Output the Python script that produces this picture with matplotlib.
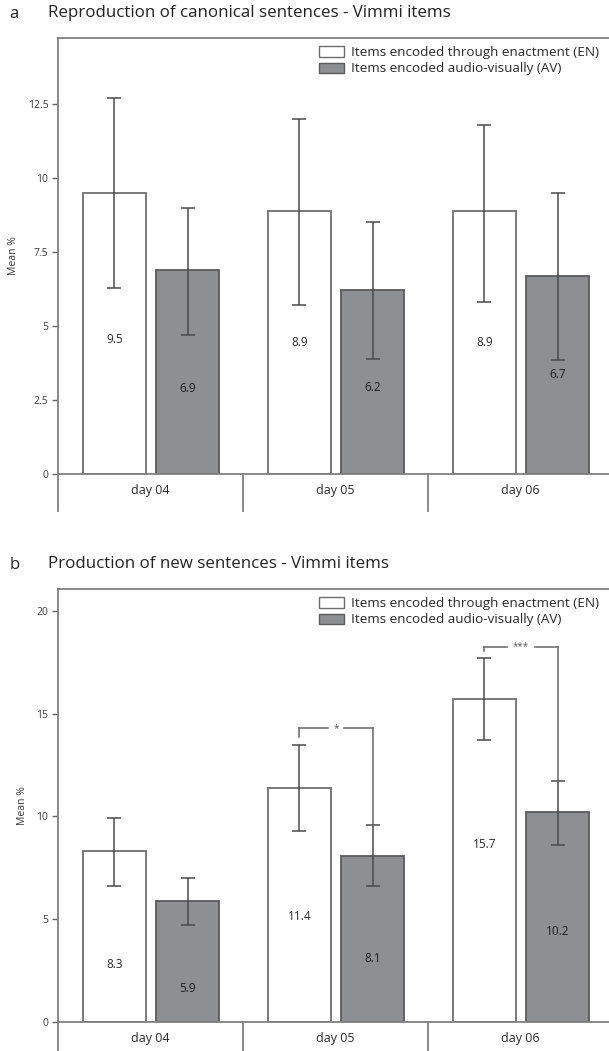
import matplotlib

matplotlib.use("Agg")
import matplotlib.pyplot as plt
import matplotlib.transforms as mtransforms
from matplotlib.patches import Patch
import numpy as np

plt.rcParams["font.family"] = ["Open Sans", "DejaVu Sans"]

days = ["day 04", "day 05", "day 06"]
legend_labels = [
    "Items encoded through enactment (EN)",
    "Items encoded audio-visually (AV)",
]

# a: reproduction of canonical sentences
repro_en = [9.5, 8.9, 8.9]
repro_en_lo = [6.3, 5.7, 5.8]
repro_en_hi = [12.7, 12.0, 11.8]
repro_av = [6.9, 6.2, 6.7]
repro_av_lo = [4.7, 3.9, 3.85]
repro_av_hi = [9.0, 8.5, 9.5]
repro_ticks = [0, 2.5, 5, 7.5, 10, 12.5]
repro_ticklabels = ["0", "2.5", "5", "7.5", "10", "12.5"]

# b: production of new sentences
prod_en = [8.3, 11.4, 15.7]
prod_en_lo = [6.6, 9.3, 13.7]
prod_en_hi = [9.95, 13.5, 17.7]
prod_av = [5.9, 8.1, 10.2]
prod_av_lo = [4.7, 6.6, 8.6]
prod_av_hi = [7.0, 9.6, 11.75]
prod_ticks = [0, 5, 10, 15, 20]
prod_ticklabels = ["0", "5", "10", "15", "20"]

# significance markers for b: (day index, bracket height, label)
prod_sig = [(1, 14.3, "*"), (2, 18.25, "***")]

EDGE = "#6e6e6e"
AV_FILL = "#8e8f93"
ERR = "#4a4a4a"
TXT = "#2a2a2a"
OFF_EN, OFF_AV, WIDTH = -0.195, 0.2, 0.345


def draw_panel(ax, letter, title, en, en_lo, en_hi, av, av_lo, av_hi,
               ticks, ticklabels, ymax, en_lab, av_lab):
    x = np.arange(len(days))
    ax.bar(x + OFF_EN, en, WIDTH, color="white", edgecolor=EDGE, linewidth=1.3, zorder=2)
    ax.bar(x + OFF_AV, av, WIDTH, color=AV_FILL, edgecolor="#5a5a5a", linewidth=1.3, zorder=2)

    for off, m, lo, hi in [(OFF_EN, en, en_lo, en_hi), (OFF_AV, av, av_lo, av_hi)]:
        m = np.array(m)
        yerr = [m - np.array(lo), np.array(hi) - m]
        ax.errorbar(x + off, m, yerr=yerr, fmt="none", ecolor=ERR,
                    elinewidth=1.1, capsize=5, capthick=1.1, zorder=3)

    for i in range(len(days)):
        ax.text(x[i] + OFF_EN, en[i] * en_lab[i], f"{en[i]:.1f}", ha="center",
                va="center", fontsize=8.5, color=TXT, zorder=4)
        ax.text(x[i] + OFF_AV, av[i] * av_lab[i], f"{av[i]:.1f}", ha="center",
                va="center", fontsize=8.5, color="#1e1e1e", zorder=4)

    ax.set_xlim(-0.5, 2.5)
    ax.set_ylim(0, ymax)
    ax.set_xticks([])
    ax.set_yticks(ticks)
    ax.set_yticklabels(ticklabels)
    ax.tick_params(axis="y", direction="out", length=4, width=1,
                   color="#666666", labelsize=7.5, labelcolor="#3a3a3a", pad=3)
    for side in ["top", "left", "bottom"]:
        ax.spines[side].set_color("#808080")
        ax.spines[side].set_linewidth(1.3)
    ax.spines["right"].set_visible(False)
    ax.set_ylabel("Mean %", fontsize=7.5, color="#3a3a3a", labelpad=6)

    # category row beneath the zero line
    trans = mtransforms.blended_transform_factory(ax.transData, ax.transAxes)
    for sep in [-0.5, 0.5, 1.5]:
        ax.plot([sep, sep], [0, -0.085], transform=trans, color="#808080",
                lw=1.3, clip_on=False)
    for i, d in enumerate(days):
        ax.text(i, -0.038, d, transform=trans, ha="center", va="center",
                fontsize=9, color=TXT)

    handles = [Patch(facecolor="white", edgecolor=EDGE, linewidth=1.0),
               Patch(facecolor=AV_FILL, edgecolor="#5a5a5a", linewidth=1.0)]
    ax.legend(handles, legend_labels, loc="upper left",
              bbox_to_anchor=(0.455, 1.0), frameon=False, fontsize=9.7,
              handlelength=1.9, handleheight=0.8, handletextpad=0.5,
              labelspacing=0.25, borderaxespad=0.2, labelcolor=TXT)

    ax.text(-0.087, 1.055, letter, transform=ax.transAxes, fontsize=12,
            color="#222222", va="center", ha="left")
    ax.text(-0.018, 1.058, title, transform=ax.transAxes, fontsize=12.2,
            color="#222222", va="center", ha="left")


fig = plt.figure(figsize=(6.09, 10.51), dpi=100)
ax_a = fig.add_axes([58 / 609, 1 - 474 / 1051, 555 / 609, 436 / 1051])
ax_b = fig.add_axes([58 / 609, 1 - 1022 / 1051, 555 / 609, 433 / 1051])

draw_panel(ax_a, "a", "Reproduction of canonical sentences - Vimmi items",
           repro_en, repro_en_lo, repro_en_hi, repro_av, repro_av_lo, repro_av_hi,
           repro_ticks, repro_ticklabels, 14.73,
           [0.48, 0.5, 0.5], [0.42, 0.47, 0.5])
draw_panel(ax_b, "b", "Production of new sentences - Vimmi items",
           prod_en, prod_en_lo, prod_en_hi, prod_av, prod_av_lo, prod_av_hi,
           prod_ticks, prod_ticklabels, 21.07,
           [0.34, 0.45, 0.55], [0.28, 0.38, 0.43])

# significance brackets
for i, h, label in prod_sig:
    xl, xr = i + OFF_EN, i + OFF_AV
    xm = (xl + xr) / 2
    gap = 0.045 * len(label) ** 0.5
    ax_b.plot([xl, xl], [prod_en_hi[i] + 0.35, h], color="#666666", lw=1.1, zorder=3)
    ax_b.plot([xl, xm - gap], [h, h], color="#666666", lw=1.1, zorder=3)
    ax_b.plot([xm + gap, xr], [h, h], color="#666666", lw=1.1, zorder=3)
    ax_b.plot([xr, xr], [h, prod_av_hi[i]], color="#666666", lw=1.1, zorder=3)
    ax_b.text(xm, h, label, ha="center", va="center", fontsize=7, color="#555555")

fig.savefig("out.png", dpi=100)
